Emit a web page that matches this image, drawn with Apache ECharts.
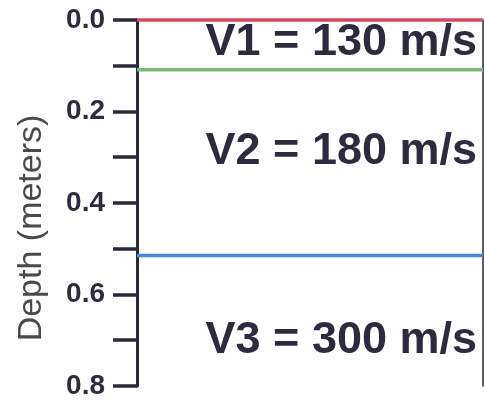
<!DOCTYPE html>
<html>
<head>
<meta charset="utf-8">
<script src="https://cdn.jsdelivr.net/npm/echarts@6/dist/echarts.min.js"></script>
<style>html,body{margin:0;padding:0;background:#fff}#c{width:485px;height:400px}</style>
</head>
<body>
<div id="c"></div>
<script>
// Layer boundary depths (meters)
var boundaryNames = ['surface', 'V1/V2', 'V2/V3'];
var boundaryDepths = [0.0, 0.109, 0.515];
var boundaryColors = ['#d24a60', '#7db67a', '#4a86d6'];
// Layer velocity labels and label depths
var layerLabels = ['V1 = 130 m/s', 'V2 = 180 m/s', 'V3 = 300 m/s'];
var labelDepths = [0.05, 0.287, 0.70];
// Axis ticks
var depthMin = 0, depthMax = 0.8, depthStep = 0.1;

var chart = echarts.init(document.getElementById('c'));
var series = [];
boundaryDepths.forEach(function (d, i) {
  series.push({
    name: boundaryNames[i], type: 'line', symbol: 'none', silent: true, clip: false,
    data: [[0, d], [1, d]],
    lineStyle: { color: boundaryColors[i], width: 3.5 }, z: 3
  });
});
series.push({
  type: 'scatter', symbolSize: 0, silent: true,
  itemStyle: { opacity: 1 },
  data: labelDepths.map(function (d, i) { return [1, d, layerLabels[i]]; }),
  label: {
    show: true, position: 'left', distance: 6, opacity: 1,
    formatter: function (p) { return p.data[2]; },
    fontFamily: 'Liberation Sans', fontWeight: 'bold', fontSize: 45, color: '#2d2c3e'
  }, z: 4
});
chart.setOption({
  animation: false,
  grid: { left: 137, right: 2, top: 20, bottom: 12 },
  xAxis: { type: 'value', min: 0, max: 1, show: false },
  yAxis: [{
    type: 'value', inverse: true, min: depthMin, max: depthMax, interval: depthStep,
    name: 'Depth (meters)', nameLocation: 'middle', nameGap: 88,
    nameTextStyle: { fontFamily: 'Liberation Sans', fontSize: 34, color: '#4a4a4a', padding: [0, 50, 0, 0] },
    axisLine: { show: true, lineStyle: { color: '#2a2a3a', width: 3 } },
    axisTick: { show: true, length: 24, lineStyle: { color: '#2a2a3a', width: 3.5 } },
    axisLabel: {
      margin: 32, fontFamily: 'Liberation Sans', fontWeight: 'bold', fontSize: 28, color: '#2d2c3e',
      formatter: function (v) { var k = Math.round(v * 10); return k % 2 === 0 ? (k / 10).toFixed(1) : ''; }
    },
    splitLine: { show: false }
  }, {
    type: 'value', inverse: true, min: depthMin, max: depthMax, position: 'right',
    axisLine: { show: true, lineStyle: { color: '#2a2a3a', width: 1.5 } },
    axisTick: { show: false }, axisLabel: { show: false }, splitLine: { show: false }
  }],
  series: series
});
</script>
</body>
</html>
